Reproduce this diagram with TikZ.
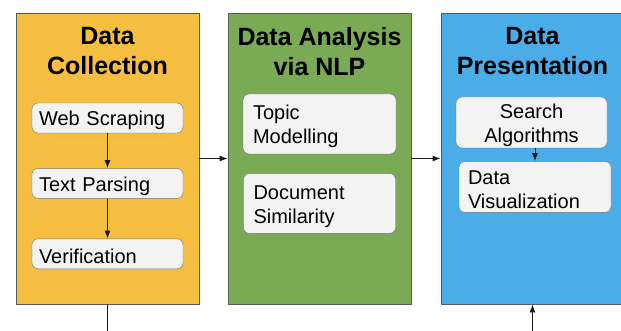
\documentclass[tikz,border=0pt]{standalone}
\usepackage{fontspec}
\setmainfont{Liberation Sans}
\usepackage{tikz}
\usetikzlibrary{positioning, arrows.meta}
\definecolor{collorange}{HTML}{F5BE41}
\definecolor{nlpgreen}{HTML}{7BAA55}
\definecolor{presblue}{HTML}{4BADE7}
\definecolor{stepgray}{HTML}{F3F3F3}
\begin{document}
\begin{tikzpicture}[
		x=1pt, y=1pt,
		stage/.style={
				rectangle, draw=black!65, line width=0.8pt,
				minimum width=183pt, minimum height=291pt
			},
		title/.style={
				anchor=north, inner sep=0pt, align=center,
				font=\fontsize{25}{30}\selectfont\bfseries
			},
		task/.style={
				rectangle, draw=black!55, rounded corners=6pt,
				fill=stepgray, inner ysep=0pt,
				font=\fontsize{20}{24}\selectfont,
				execute at begin node={\rule{0pt}{20pt}}
			},
		link/.style={-{Latex[length=8pt,width=6pt]}, line width=1pt, black!90}
	]
	\useasboundingbox (0,0) rectangle (621,-331);

	% three stages
	\node[stage, fill=collorange] (coll) at (107.5,-158.5) {};
	\node[stage, fill=nlpgreen] (nlp) at (319.5,-158.5) {};
	\node[stage, fill=presblue] (pres) at (532.5,-158.5) {};

	\node[title] (colltitle) at (107.5,-27) {Data\\Collection};
	\node[title] (nlptitle) at (319.5,-27) {Data Analysis\\via NLP};
	\node[title] (prestitle) at (532.5,-27) {Data\\Presentation};

	% data collection
	\node[task, minimum width=151pt, minimum height=30pt, inner xsep=7pt,
		text width=137pt, align=left] (web) at (107.5,-118) {Web Scraping};
	\node[task, minimum width=151pt, minimum height=30pt, inner xsep=7pt,
		text width=137pt, align=left, below=35pt of web] (parse) {Text Parsing};
	\node[task, minimum width=151pt, minimum height=30pt, inner xsep=7pt,
		text width=137pt, align=left, below=40pt of parse] (verif) {Verification};

	% data analysis
	\node[task, minimum width=153pt, minimum height=60pt, inner xsep=10pt,
		text width=133pt, align=left] (topic) at (319.5,-124) {Topic\\Modelling};
	\node[task, minimum width=152pt, minimum height=60pt, inner xsep=10pt,
		text width=132pt, align=left, below=19pt of topic] (docsim) {Document\\Similarity};

	% data presentation
	\node[task, minimum width=151pt, minimum height=51pt, inner xsep=7pt,
		text width=137pt, align=center] (search) at (531.5,-122.5) {Search\\Algorithms};
	\node[task, minimum width=152pt, minimum height=51pt, inner xsep=9pt,
		text width=134pt, align=left, below=13pt of search, xshift=3.5pt] (vis) {Data\\Visualization};

	% connectors
	\draw[link] (web) -- (parse);
	\draw[link] (parse) -- (verif);
	\draw[link] (search.south -| 535,0) -- (vis.north -| 535,0);
	\draw[link] (coll) -- (nlp);
	\draw[link] (nlp) -- (pres);

	\coordinate (loop) at (0,-331.3);
	\draw[link] (coll.south) -- (coll.south |- loop) -| (pres.south);
\end{tikzpicture}
\end{document}
